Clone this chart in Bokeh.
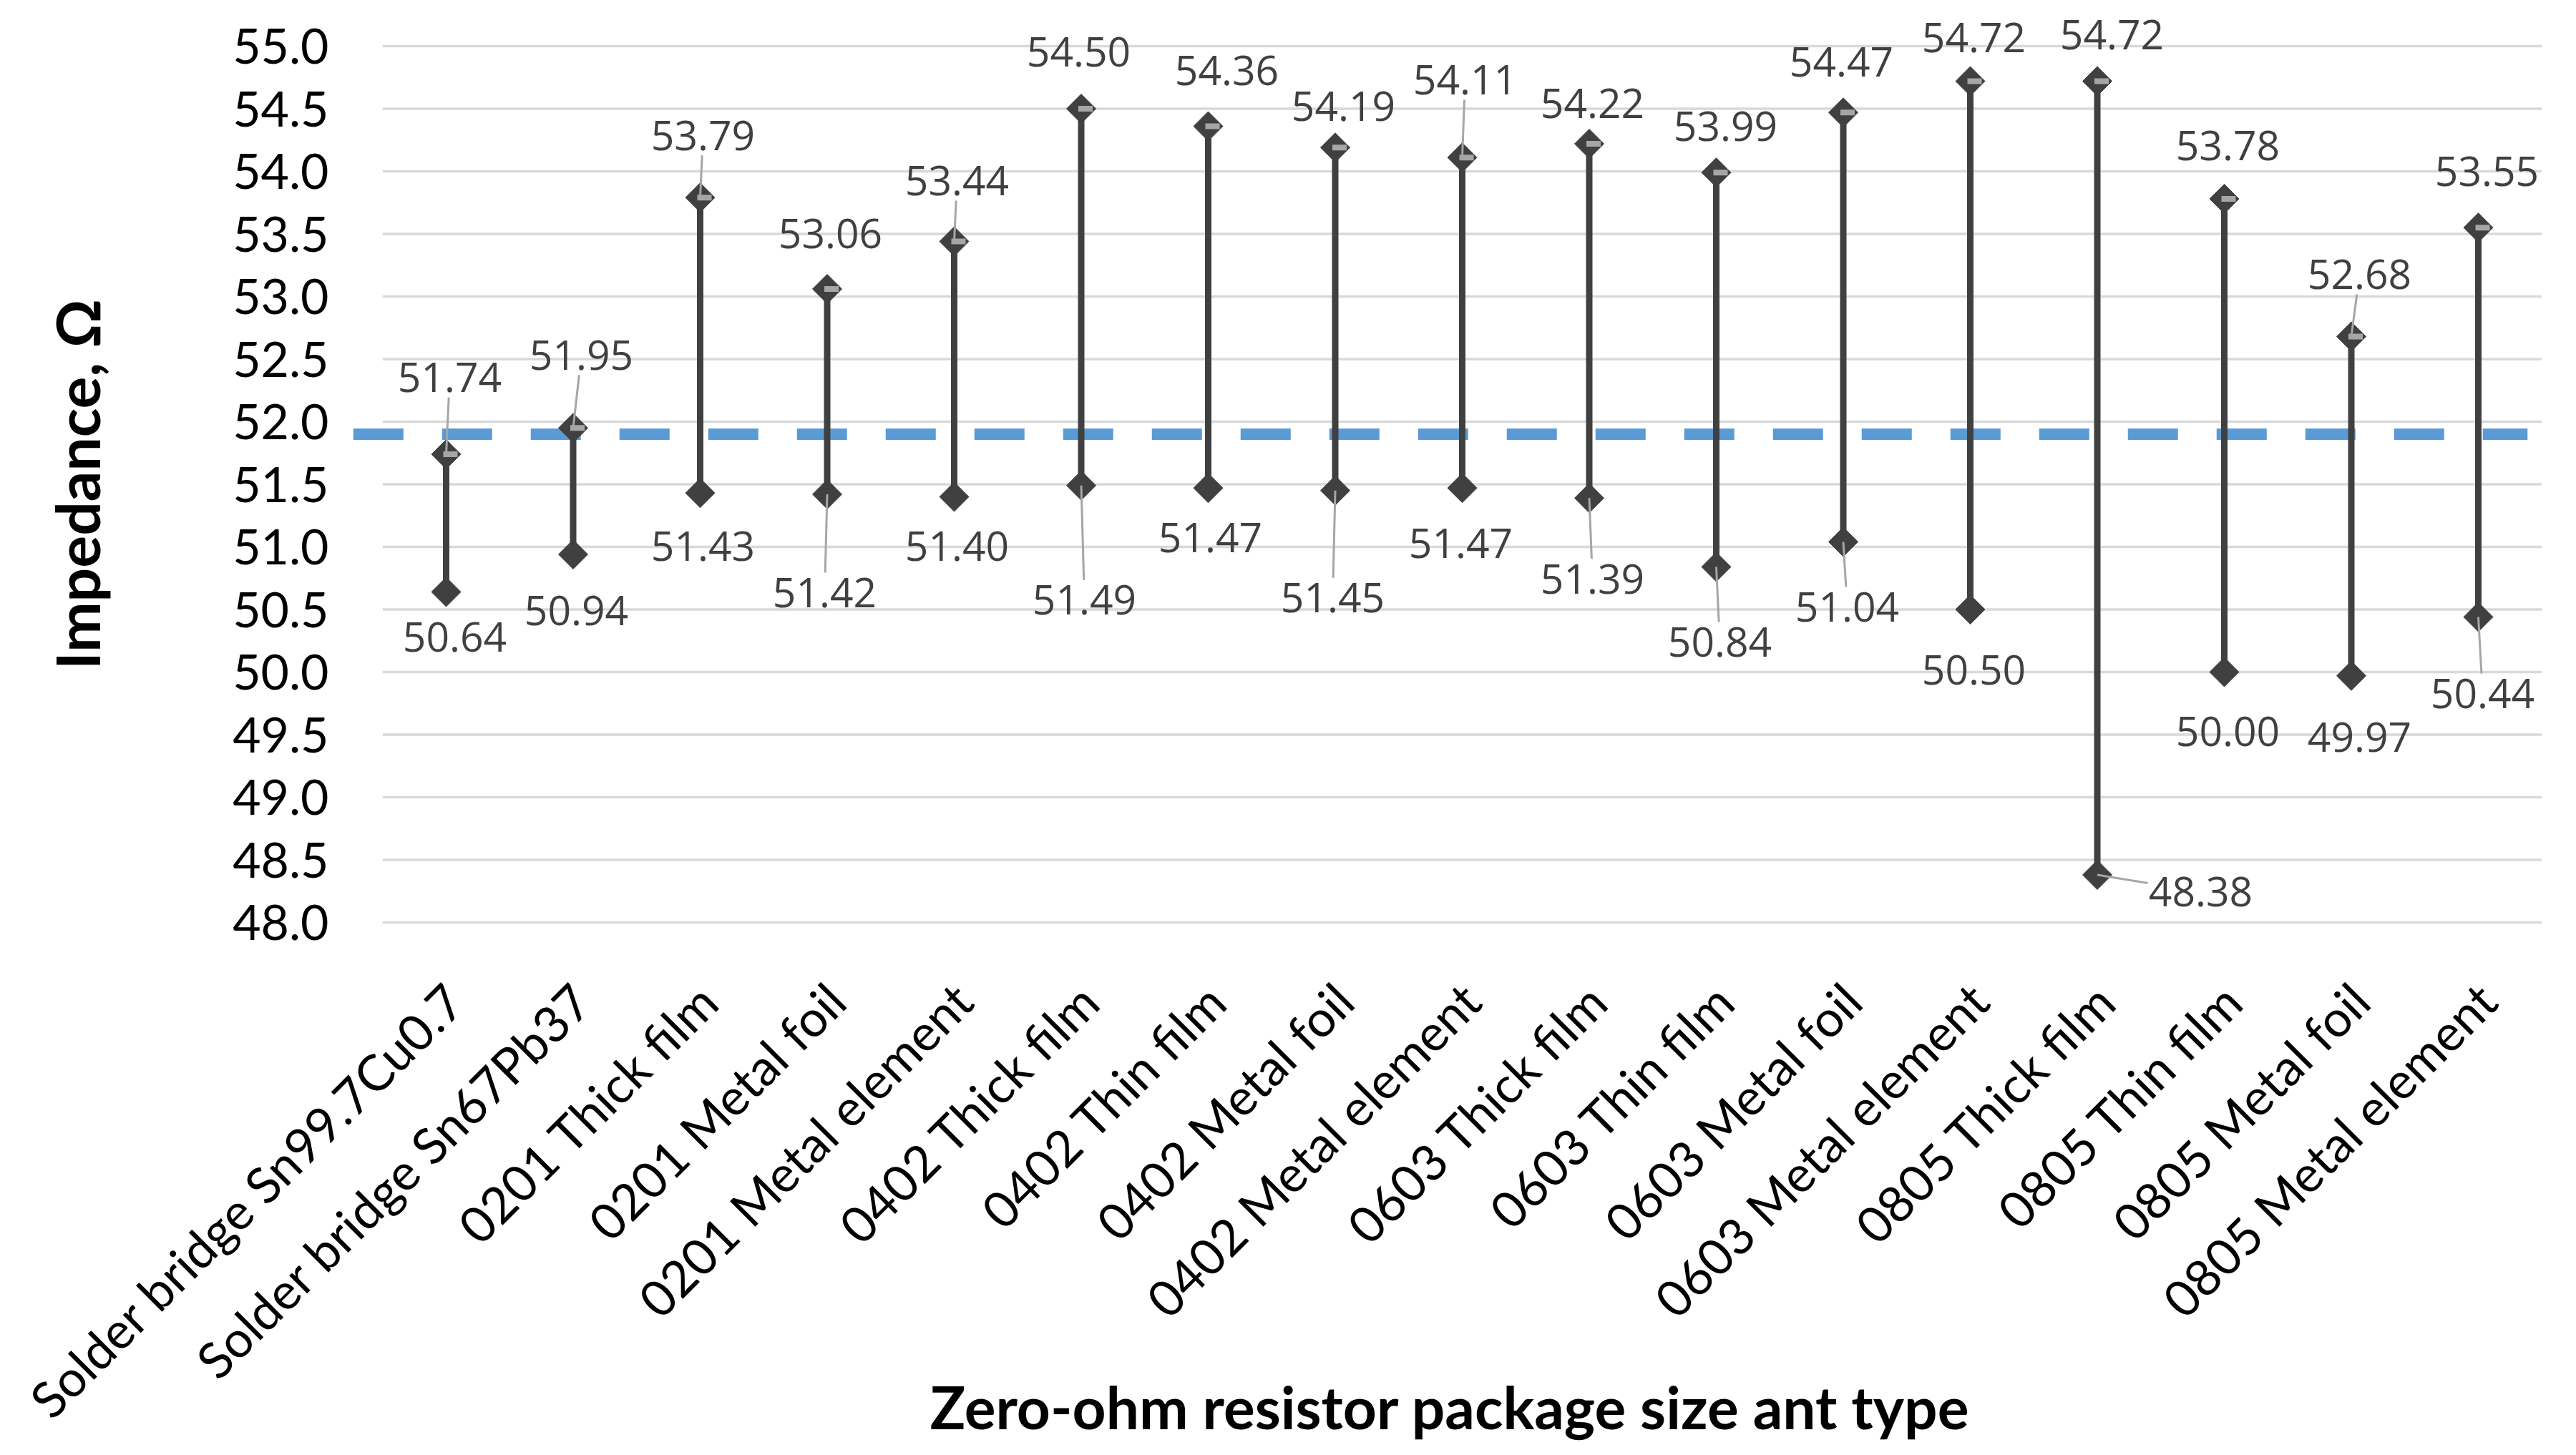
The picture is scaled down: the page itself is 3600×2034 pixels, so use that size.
import math
from bokeh.plotting import figure
from bokeh.models import ColumnDataSource, LabelSet, Label, FixedTicker, Range1d
from bokeh.embed import file_html
from bokeh.resources import INLINE
from bokeh.core.properties import value

# ---------------- data ----------------
categories = [
    "Solder bridge Sn99.7Cu0.7", "Solder bridge Sn67Pb37",
    "0201 Thick film", "0201 Metal foil", "0201 Metal element",
    "0402 Thick film", "0402 Thin film", "0402 Metal foil", "0402 Metal element",
    "0603 Thick film", "0603 Thin film", "0603 Metal foil", "0603 Metal element",
    "0805 Thick film", "0805 Thin film", "0805 Metal foil", "0805 Metal element",
]
high = [51.74, 51.95, 53.79, 53.06, 53.44, 54.50, 54.36, 54.19, 54.11,
        54.22, 53.99, 54.47, 54.72, 54.72, 53.78, 52.68, 53.55]
low = [50.64, 50.94, 51.43, 51.42, 51.40, 51.49, 51.47, 51.45, 51.47,
       51.39, 50.84, 51.04, 50.50, 48.38, 50.00, 49.97, 50.44]
reference_level = 51.9
y_ticks = [48.0, 48.5, 49.0, 49.5, 50.0, 50.5, 51.0, 51.5, 52.0,
           52.5, 53.0, 53.5, 54.0, 54.5, 55.0]
y_tick_labels = ["48.0", "48.5", "49.0", "49.5", "50.0", "50.5", "51.0", "51.5", "52.0",
                 "52.5", "53.0", "53.5", "54.0", "54.5", "55.0"]
x_title = "Zero-ohm resistor package size ant type"
y_title = "Impedance, \u03a9"

# ------------- label placement (screen px offsets from the point, +down) -------------
high_label_dx = [5, 11.5, 4, 4.5, 4, -3.5, 26, 11.5, 4, 4.5, 13, -2.5, 5, 20.5, 5, 11.5, 12]
high_label_dy = [-107.5, -102, -87, -77.5, -85, -79.5, -78, -57.75, -108.75, -56.5,
                 -64.75, -70.75, -61, -65, -74.5, -87, -78.75]
low_label_dx = [12, 4.5, 4, -3.5, 4, 4.5, 3, -3.5, -2, 4.5, 5, 5.5, 5, 144.5, 5, 11.5, 6]
low_label_dy = [63, 78.5, 74, 137.5, 69, 160, 69, 150, 77, 113, 105, 91, 84.5, 23.5, 83, 86, 107]
high_leader = [1, 1, 1, 0, 1, 0, 0, 0, 1, 0, 0, 0, 0, 0, 0, 1, 0]
low_leader = [0, 0, 0, 1, 0, 1, 0, 1, 0, 1, 1, 1, 0, 1, 0, 0, 1]

# ---------------- layout (px, canvas coordinates) ----------------
W, H = 3584, 2018
PX_X = 177.5          # px per category
PX_Y = 175.0          # px per ohm
CAT0_CX = 623.0       # canvas x of first category
Y55_CY = 64.0         # canvas y of the 55.0 gridline
AXIS_CX = 490.0       # canvas x where the value axis sits

n = len(categories)
idx = list(range(n))
y48_cy = Y55_CY + (y_ticks[-1] - y_ticks[0]) * PX_Y


def x_at(cx):
    """data x for a canvas x position"""
    return (cx - CAT0_CX) / PX_X


def y_at(cy):
    """data y for a canvas y position"""
    return y_ticks[0] - (cy - y48_cy) / PX_Y


p = figure(width=W, height=H, x_range=Range1d(x_at(0), x_at(W)), y_range=Range1d(y_at(H), y_at(0)),
           output_backend="svg", toolbar_location=None,
           min_border_left=0, min_border_right=0, min_border_top=0, min_border_bottom=0)
p.background_fill_color = "white"
p.border_fill_color = "white"
p.outline_line_color = None
p.xaxis.visible = False
p.xgrid.visible = False
p.ygrid.visible = False

ax = p.yaxis[0]
ax.fixed_location = x_at(AXIS_CX)
ax.ticker = FixedTicker(ticks=y_ticks)
ax.bounds = (y_ticks[0], y_ticks[-1])
ax.major_label_overrides = {t: s for t, s in zip(y_ticks, y_tick_labels)}
ax.axis_line_color = None
ax.major_tick_line_color = None
ax.minor_tick_line_color = None
ax.major_tick_out = 0
ax.major_tick_in = 0
ax.major_label_standoff = 31
ax.major_label_text_font = "Lato"
ax.major_label_text_font_size = "68px"
ax.major_label_text_color = "#000000"

# gridlines across the category band
p.segment(x0=[-0.5] * len(y_ticks), x1=[n - 0.5] * len(y_ticks), y0=y_ticks, y1=y_ticks,
          line_color="#D9D9D9", line_width=3.5)

# reference dashed line
ref_x0 = -0.5 - 41 / PX_X
ref_x1 = n - 0.5 - 20 / PX_X
p.line(x=[ref_x0, ref_x1], y=[reference_level, reference_level], line_color="#5B9BD5",
       line_width=16, line_dash="70 54")

# high-low lines
p.segment(x0=idx, x1=idx, y0=low, y1=high, line_color="#404040", line_width=9)
p.scatter(x=idx + idx, y=high + low, marker="square", angle=math.pi / 4, size=29,
          fill_color="#404040", line_color="#404040", line_width=1)
p.rect(x=[i + 6 / PX_X for i in idx], y=high, width=20, height=8,
       width_units="screen", height_units="screen", fill_color="#A6A6A6", line_color=None)

# data labels
lab_x, lab_y, lab_t = [], [], []
lead_x0, lead_y0, lead_x1, lead_y1 = [], [], [], []
HW, HH = 74.0, 28.0
for vals, ddx, ddy, lead in ((high, high_label_dx, high_label_dy, high_leader),
                             (low, low_label_dx, low_label_dy, low_leader)):
    for i in idx:
        v = vals[i]
        lab_x.append(i + ddx[i] / PX_X)
        lab_y.append(v - ddy[i] / PX_Y)
        lab_t.append(f"{v:.2f}")
        if lead[i]:
            vx, vy = -ddx[i], -ddy[i]
            t = min(HW / abs(vx) if vx else 1e9, HH / abs(vy) if vy else 1e9)
            sx, sy = ddx[i] + t * vx, ddy[i] + t * vy
            lead_x0.append(i + sx / PX_X)
            lead_y0.append(v - sy / PX_Y)
            lead_x1.append(i)
            lead_y1.append(v)

p.segment(x0=lead_x0, y0=lead_y0, x1=lead_x1, y1=lead_y1, line_color="#A6A6A6", line_width=3)

lab_src = ColumnDataSource(dict(x=lab_x, y=lab_y, text=lab_t))
p.add_layout(LabelSet(x="x", y="y", text="text", source=lab_src,
                      text_font=value("Open Sans"), text_font_size="57px",
                      text_color="#404040", text_align="center", text_baseline="middle"))

# category labels (rotated 45 degrees, ending at their category)
cat_src = ColumnDataSource(dict(x=[i + 12 / PX_X for i in idx], y=[y_at(1394 - 8)] * n,
                                text=categories))
p.add_layout(LabelSet(x="x", y="y", text="text", source=cat_src, angle=math.pi / 4,
                      text_font=value("Lato"), text_font_size="70px", text_color="#000000",
                      text_align="right", text_baseline="middle"))

# axis titles
p.add_layout(Label(x=x_at(2034 - 8), y=y_at(1973 - 8),
                   text=x_title, text_font="Lato", text_font_style="bold",
                   text_font_size="82px", text_color="#000000",
                   text_align="center", text_baseline="middle"))
p.add_layout(Label(x=x_at(115 - 8), y=(y_ticks[0] + y_ticks[-1]) / 2,
                   text=y_title, angle=math.pi / 2, text_font="Lato", text_font_style="bold",
                   text_font_size="84px", text_color="#000000",
                   text_align="center", text_baseline="middle"))

open("out.html", "w").write(file_html(p, INLINE))
